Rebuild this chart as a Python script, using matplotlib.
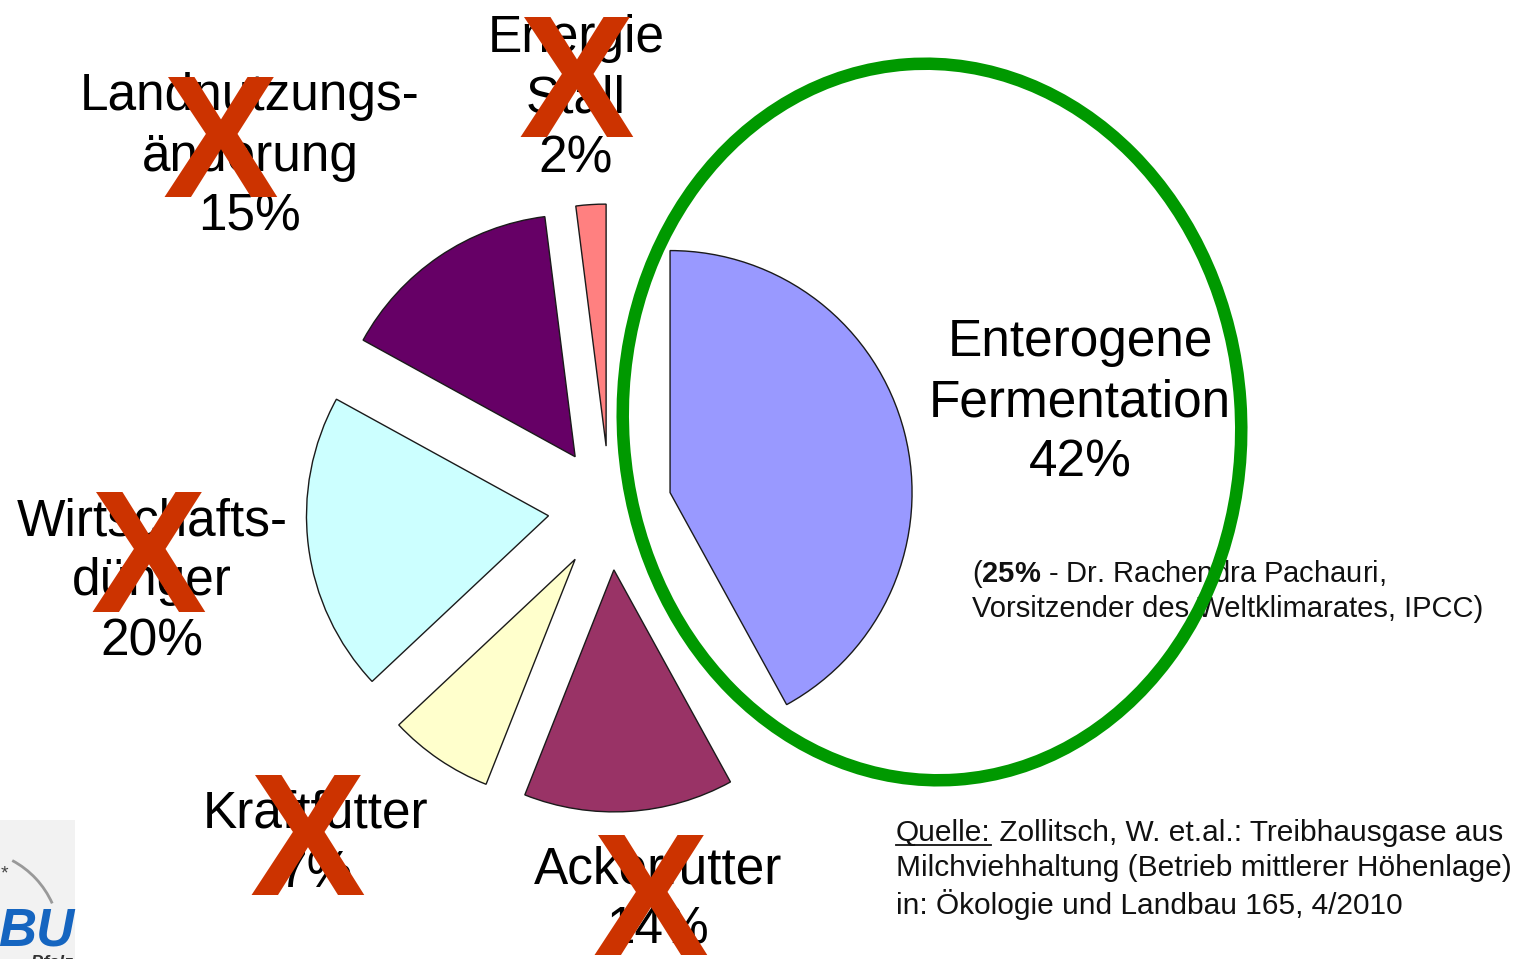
import matplotlib.pyplot as plt
from matplotlib.patches import Ellipse, Rectangle, Arc

plt.rcParams['font.family'] = ['Liberation Sans', 'DejaVu Sans']
plt.rcParams['mathtext.fontset'] = 'custom'
plt.rcParams['mathtext.rm'] = 'Liberation Sans'
plt.rcParams['mathtext.bf'] = 'Liberation Sans:bold'

#%% data
labels = ['Enterogene\nFermentation', 'Ackerfutter', 'Kraftfutter',
          'Wirtschafts-\ndünger', 'Landnutzungs-\nänderung', 'Energie\nStall']
values = [42, 14, 7, 20, 15, 2]
colors = ['#9999FF', '#993366', '#FFFFCC', '#CCFFFF', '#660066', '#FF8080']
crossed = [False, True, True, True, True, True]

note_lines = [r'($\mathbf{25\%}$ - Dr. Rachendra Pachauri,',
              'Vorsitzender des Weltklimarates, IPCC)']
source_rest = ' Zollitsch, W. et.al.: Treibhausgase aus'
source_lines = ['Milchviehhaltung (Betrieb mittlerer Höhenlage)',
                'in: Ökologie und Landbau 165, 4/2010']

#%% layout (pixel coordinates, y measured from top)
W, H = 1515, 959
def Y(y):
    return H - y

label_pos = [(1080, 403), (658, 900), (316, 844), (152, 582), (250, 157), (576, 99)]
cross_pos = [None, (650, 955), (307, 895), (148, 612), (220, 197), (576, 137)]

fig = plt.figure(figsize=(W / 100, H / 100), dpi=100)
ax = fig.add_axes([0, 0, 1, 1])

# explode is in data units (pixels here)
ax.pie(values, colors=colors, startangle=90, counterclock=False,
       explode=[62] * len(values), radius=242, center=(610, Y(508)),
       wedgeprops=dict(edgecolor='#1a1a1a', linewidth=1))

for lab, v, (x, y) in zip(labels, values, label_pos):
    ax.text(x, Y(y), f'{lab}\n{v}%', ha='center', va='center',
            fontsize=37, linespacing=1.3, color='black', zorder=5)

for c, pos in zip(crossed, cross_pos):
    if c:
        ax.text(pos[0], Y(pos[1]), 'X', ha='center', va='baseline',
                fontsize=125, fontweight='bold', color='#CC3300', zorder=6)

# note on 25 %
for i, line in enumerate(note_lines):
    ax.text(972, Y(574 + 35 * i), line, ha='left', va='center',
            fontsize=21, color='#111111', zorder=5)

# green ellipse
ax.add_patch(Ellipse((932, Y(422)), 618, 717, angle=4, fill=False,
                     edgecolor='#009900', linewidth=9, zorder=7))

# source
q = ax.text(896, Y(833), 'Quelle:', ha='left', va='center',
            fontsize=21.5, color='#111111', zorder=5)
ax.annotate(source_rest, xy=(1, 0), xycoords=q, ha='left', va='bottom',
            fontsize=21.5, color='#111111')
for i, line in enumerate(source_lines):
    ax.text(896, Y(868 + 37 * i), line, ha='left', va='center',
            fontsize=21.5, color='#111111', zorder=5)

# logo fragment bottom left
ax.add_patch(Rectangle((0, 0), 75, Y(820), facecolor='#F2F2F2',
                       edgecolor='none', zorder=1))
ax.add_patch(Arc((-30, Y(940)), 180, 180, theta1=24, theta2=62,
                 color='#999999', linewidth=2, zorder=2))
ax.text(4, Y(874), '*', ha='center', va='center', fontsize=14,
        color='#444444', zorder=2)
ax.text(74, Y(946), 'BU', ha='right', va='baseline', fontsize=38,
        fontweight='bold', style='italic', color='#1565C0', zorder=3)
ax.text(74, Y(968), '.-Pfalz', ha='right', va='baseline', fontsize=13,
        fontweight='bold', style='italic', color='#333333', zorder=3)

ax.set_xlim(0, W)
ax.set_ylim(0, H)
ax.set_aspect('equal')
ax.axis('off')

fig.canvas.draw()
bb = q.get_window_extent().transformed(ax.transData.inverted())
ax.plot([bb.x0, bb.x1], [bb.y0 + 2, bb.y0 + 2], color='#111111', lw=1.3)

fig.savefig('out.png', dpi=100, facecolor='white')
